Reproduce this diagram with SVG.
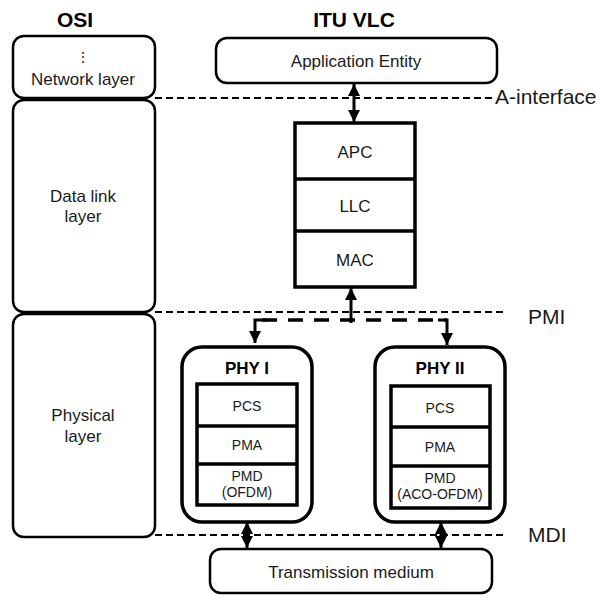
<svg xmlns="http://www.w3.org/2000/svg" width="601" height="595" viewBox="0 0 601 595">
<style>
.box{fill:#fff;stroke:#000;stroke-width:2.5}
.thk{fill:#fff;stroke:#000;stroke-width:3.5}
.t{font-family:"Liberation Sans",Arial,sans-serif;font-size:17px;fill:#1a1a1a;text-anchor:middle}
.s{font-family:"Liberation Sans",Arial,sans-serif;font-size:14px;fill:#1a1a1a;text-anchor:middle}
.b{font-family:"Liberation Sans",Arial,sans-serif;font-weight:bold;fill:#000;text-anchor:middle}
.big{font-family:"Liberation Sans",Arial,sans-serif;font-size:21px;fill:#1a1a1a}
.dash{stroke:#000;stroke-width:2;stroke-dasharray:7 4;fill:none}
.arr{stroke:#000;stroke-width:3;fill:none}
</style>
<defs>
<marker id="ah" viewBox="0 0 10 10" refX="10" refY="5" markerWidth="12" markerHeight="12" markerUnits="userSpaceOnUse" orient="auto-start-reverse">
<path d="M0,0 L10,5 L0,10 Z" fill="#000"/>
</marker>
</defs>
<rect width="601" height="595" fill="#fff"/>

<text class="b" x="75" y="27" font-size="21">OSI</text>
<text class="b" x="354" y="27" font-size="21">ITU VLC</text>

<g id="connectors">
<line class="dash" x1="155" y1="98" x2="494" y2="98"/>
<line class="dash" x1="155" y1="312" x2="503" y2="312"/>
<line class="dash" x1="155" y1="535" x2="503" y2="535"/>
<line stroke="#000" stroke-width="3.5" stroke-dasharray="15 11" x1="262" y1="320" x2="447" y2="320"/>
<path class="arr" d="M268,320 H255 V343" stroke-width="3.5" marker-end="url(#ah)"/>
<path class="arr" d="M438,320 H447 V345" stroke-width="3.5" marker-end="url(#ah)"/>
<line class="arr" x1="354" y1="84" x2="354" y2="122" marker-start="url(#ah)" marker-end="url(#ah)"/>
<line class="arr" x1="351" y1="288" x2="351" y2="323" marker-start="url(#ah)"/>
<line class="arr" x1="247" y1="522" x2="247" y2="548" marker-start="url(#ah)" marker-end="url(#ah)"/>
<line class="arr" x1="441" y1="522" x2="441" y2="548" marker-start="url(#ah)" marker-end="url(#ah)"/>
</g>

<text class="big" x="495" y="104">A-interface</text>
<text class="big" x="528" y="324">PMI</text>
<text class="big" x="528" y="542">MDI</text>

<g id="network-layer">
<rect class="box" x="13" y="36" width="142" height="62" rx="11"/>
<text class="s" x="83" y="62" font-size="12">⋮</text>
<text class="t" x="83" y="85">Network layer</text>
</g>
<g id="data-link-layer">
<rect class="box" x="13" y="100" width="142" height="212" rx="11"/>
<text class="t" x="83" y="202">Data link</text>
<text class="t" x="83" y="222">layer</text>
</g>
<g id="physical-layer">
<rect class="box" x="13" y="314" width="142" height="223" rx="11"/>
<text class="t" x="83" y="421">Physical</text>
<text class="t" x="83" y="442">layer</text>
</g>

<g id="application-entity">
<rect class="box" x="216" y="38" width="281" height="45" rx="11"/>
<text class="t" x="356" y="67">Application Entity</text>
</g>

<g id="dll-stack">
<rect class="thk" x="295" y="123" width="120" height="164"/>
<line stroke="#000" stroke-width="3.5" x1="295" y1="179" x2="415" y2="179"/>
<line stroke="#000" stroke-width="3.5" x1="295" y1="231" x2="415" y2="231"/>
<text class="t" x="355" y="158">APC</text>
<text class="t" x="355" y="212">LLC</text>
<text class="t" x="355" y="266">MAC</text>
</g>

<g id="phy1">
<rect class="thk" x="182" y="347" width="130" height="175" rx="20"/>
<text class="b" x="247" y="374" font-size="17">PHY I</text>
<rect class="thk" x="197" y="384" width="100" height="121"/>
<line stroke="#000" stroke-width="3.5" x1="197" y1="426" x2="297" y2="426"/>
<line stroke="#000" stroke-width="3.5" x1="197" y1="464" x2="297" y2="464"/>
<text class="s" x="247" y="411">PCS</text>
<text class="s" x="247" y="450">PMA</text>
<text class="s" x="247" y="481">PMD</text>
<text class="s" x="247" y="497">(OFDM)</text>
</g>

<g id="phy2">
<rect class="thk" x="375" y="347" width="130" height="175" rx="20"/>
<text class="b" x="440" y="374" font-size="17">PHY II</text>
<rect class="thk" x="391" y="386" width="99" height="122"/>
<line stroke="#000" stroke-width="3.5" x1="391" y1="427" x2="490" y2="427"/>
<line stroke="#000" stroke-width="3.5" x1="391" y1="466" x2="490" y2="466"/>
<text class="s" x="440" y="413">PCS</text>
<text class="s" x="440" y="452">PMA</text>
<text class="s" x="440" y="483">PMD</text>
<text class="s" x="440" y="499">(ACO-OFDM)</text>
</g>

<g id="transmission-medium">
<rect class="box" x="210" y="549" width="282" height="44" rx="11"/>
<text class="t" x="351" y="578">Transmission medium</text>
</g>
</svg>
